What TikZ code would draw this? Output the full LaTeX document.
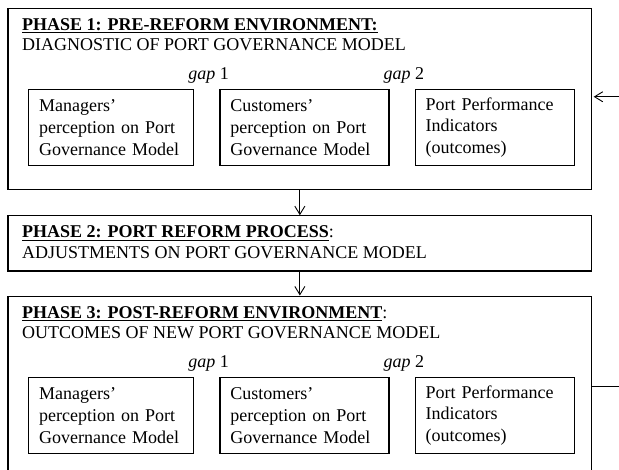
\documentclass[tikz,border=0pt]{standalone}
\usepackage{fontspec}
\setmainfont{Liberation Serif}
\usetikzlibrary{positioning,arrows.meta}

\newcommand{\phaseUnderline}[1]{\leavevmode\vtop{\hbox{#1}\kern1.1pt\hrule height 0.85pt}}

\begin{document}
\begin{tikzpicture}[
    font=\fontsize{12pt}{14.5pt}\selectfont,
    >={Straight Barb[length=5.5pt,width=6.7pt]},
    phaseBox/.style={draw, line width=0.8pt, minimum width=389pt, inner sep=0pt},
    phaseTitle/.style={anchor=base west, inner sep=0pt},
    perception/.style={draw, line width=0.8pt, align=left, text width=#1, inner xsep=7pt, minimum height=50.7pt},
    gapLabel/.style={anchor=base, inner sep=0pt}
  ]
  \useasboundingbox (0,0) rectangle (412.67pt,-313.33pt);
  \node[phaseBox, minimum height=120.7pt, anchor=north west] (phaseOne) at (5pt,-5pt) {};
  \node[phaseBox, minimum height=36.7pt, below=17pt of phaseOne] (phaseTwo) {};
  \node[phaseBox, minimum height=120.7pt, below=16pt of phaseTwo] (phaseThree) {};
  \node[phaseTitle] (titleOne) at ([xshift=9.5pt,yshift=-15.1pt]phaseOne.north west) {\phaseUnderline{\textbf{PHASE 1: PRE-REFORM ENVIRONMENT:}}};
  \node[phaseTitle] (subOne) at ([yshift=-13.6pt]titleOne.base west) {DIAGNOSTIC OF PORT GOVERNANCE MODEL};
  \node[phaseTitle] (titleTwo) at ([xshift=9.5pt,yshift=-15.1pt]phaseTwo.north west) {\phaseUnderline{\textbf{PHASE 2: PORT REFORM PROCESS}}:};
  \node[phaseTitle] (subTwo) at ([yshift=-14pt]titleTwo.base west) {ADJUSTMENTS ON PORT GOVERNANCE MODEL};
  \node[phaseTitle] (titleThree) at ([xshift=9.5pt,yshift=-15.1pt]phaseThree.north west) {\phaseUnderline{\textbf{PHASE 3: POST-REFORM ENVIRONMENT}}:};
  \node[phaseTitle] (subThree) at ([yshift=-13.6pt]titleThree.base west) {OUTCOMES OF NEW PORT GOVERNANCE MODEL};
  \foreach \phase in {phaseOne,phaseThree} {
    \node[perception=96pt, anchor=north west] (managers-\phase) at ([xshift=13.7pt,yshift=-54.2pt]\phase.north west) {Managers'\\ perception on Port\\ Governance Model};
    \node[perception=98.7pt, right=16.7pt of managers-\phase] (customers-\phase) {Customers'\\ perception on Port\\ Governance Model};
    \node[perception=92pt, right=16.7pt of customers-\phase] (indicators-\phase) {Port Performance\\ Indicators\\ (outcomes)};
    \node[gapLabel] (gapOne-\phase) at ([xshift=9.5pt,yshift=6pt]managers-\phase.north east) {\textit{gap} 1};
    \node[gapLabel] (gapTwo-\phase) at ([xshift=9.5pt,yshift=6pt]customers-\phase.north east) {\textit{gap} 2};
  }
  \coordinate[yshift=-5.3pt] (loopIn) at (indicators-phaseOne.north -| phaseOne.east);
  \coordinate[yshift=-6.2pt] (loopOut) at (indicators-phaseThree.north -| phaseThree.east);
  \draw[->, line width=0.6pt] (phaseOne) -- (phaseTwo);
  \draw[->, line width=0.6pt] (phaseTwo) -- (phaseThree);
  \draw[->, line width=0.6pt, shorten >=1pt] (loopOut) -- ++(30pt,0) |- (loopIn);
\end{tikzpicture}
\end{document}
